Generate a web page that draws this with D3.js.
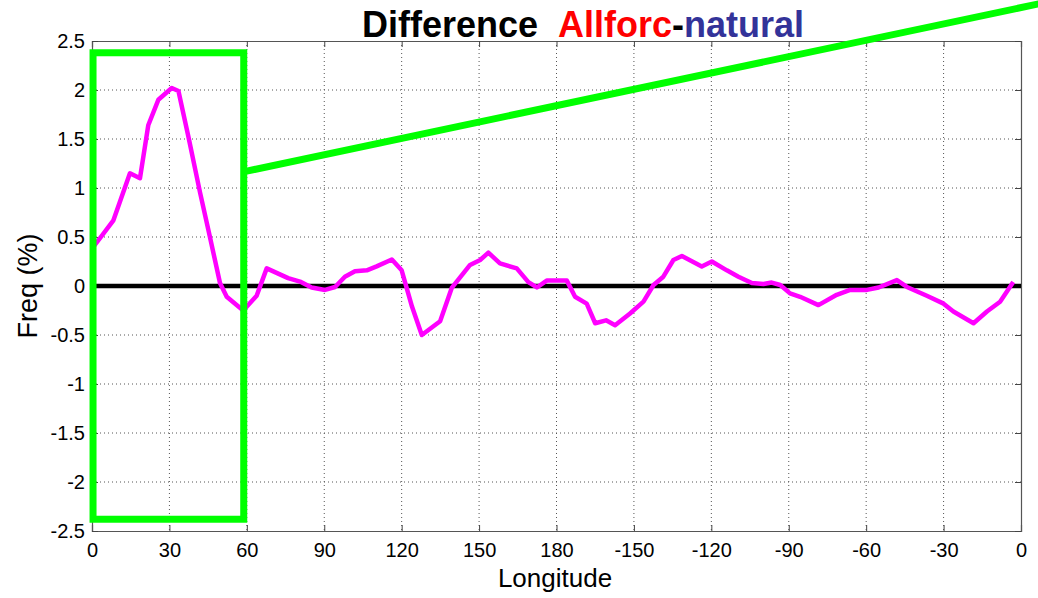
<!DOCTYPE html>
<head>
    <meta charset="utf-8">
    <script src="https://d3js.org/d3.v7.min.js"></script>
    <style>
      body { margin: 0; background: #fff; }
      text { font-family: "Liberation Sans", Arial, Helvetica, sans-serif; }
    </style>
</head>

<body>
<div id="chart"></div>

<script>
  // magenta curve, longitude measured 0..360 going east
  var lon = [0, 8.3, 14.7, 18.6, 21.8, 25.7, 30.9, 33.5, 37.3, 41.9, 45.7, 49.6, 52.2, 58.6, 63.8,
             67.7, 76, 80.6, 85.1, 90.3, 94.2, 98, 101.9, 106.5, 110.3, 116.2, 120, 124, 127.8,
             134.9, 139.4, 146.5, 150.4, 153.6, 158.1, 164.6, 169.1, 172.4, 176.2, 184, 187.2,
             191.7, 195, 199.2, 202.7, 208.5, 213.7, 217.6, 221.4, 225.3, 228.6, 236.3, 240.2,
             246, 250.5, 255.7, 260.2, 263.4, 266.7, 270.5, 274.4, 281.5, 288.6, 293.8, 300.3,
             304.8, 311.9, 315.8, 323.5, 330, 333.8, 341.6, 346.8, 351.9, 357];
  var freq = [0.38, 0.67, 1.15, 1.10, 1.64, 1.90, 2.02, 1.99, 1.53, 0.95, 0.50, 0.03, -0.11, -0.25, -0.10,
              0.18, 0.08, 0.045, -0.015, -0.04, -0.01, 0.095, 0.15, 0.16, 0.2, 0.27, 0.16, -0.21, -0.50,
              -0.36, -0.02, 0.215, 0.265, 0.34, 0.23, 0.18, 0.04, -0.015, 0.055, 0.055, -0.11,
              -0.18, -0.38, -0.35, -0.40, -0.28, -0.16, 0.01, 0.095, 0.265, 0.306, 0.2, 0.25,
              0.16, 0.095, 0.03, 0.02, 0.035, 0.01, -0.075, -0.11, -0.195, -0.09, -0.04, -0.04,
              -0.015, 0.06, -0.01, -0.10, -0.18, -0.26, -0.38, -0.26, -0.16, 0.04];

  var xTicks = [0, 30, 60, 90, 120, 150, 180, 210, 240, 270, 300, 330, 360];
  var xTickLabels = ["0", "30", "60", "90", "120", "150", "180", "-150", "-120", "-90", "-60", "-30", "0"];
  var yTicks = [-2.5, -2, -1.5, -1, -0.5, 0, 0.5, 1, 1.5, 2, 2.5];

  // green highlight box (lon 0-60) and pointer line, in data units
  var boxLon = [0.4, 58.8];
  var boxVal = [2.38, -2.38];
  var pointer = [[59.5, 1.17], [367, 2.88]];

  var width = 1038;
  var height = 598;
  var margin = {left: 92, right: 17, top: 41, bottom: 67};

  var svg = d3.select("#chart").append("svg")
      .attr("width", width)
      .attr("height", height);

  var x = d3.scaleLinear().domain([0, 360]).range([margin.left, width - margin.right]);
  var y = d3.scaleLinear().domain([-2.5, 2.5]).range([height - margin.bottom, margin.top]);

  var g = svg.append("g");

  // dotted grid
  g.selectAll(".vgrid").data(xTicks.slice(1, -1)).enter().append("line")
      .attr("x1", function(d) { return x(d); }).attr("x2", function(d) { return x(d); })
      .attr("y1", y(2.5)).attr("y2", y(-2.5))
      .attr("stroke", "#555").attr("stroke-width", 1).attr("stroke-dasharray", "1,3");
  g.selectAll(".hgrid").data(yTicks.slice(1, -1)).enter().append("line")
      .attr("x1", x(0)).attr("x2", x(360))
      .attr("y1", function(d) { return y(d); }).attr("y2", function(d) { return y(d); })
      .attr("stroke", "#555").attr("stroke-width", 1).attr("stroke-dasharray", "1,3");

  // axes with inward ticks
  var xAxis = d3.axisBottom(x).tickValues(xTicks).tickSize(-6).tickPadding(12)
      .tickFormat(function(d, i) { return xTickLabels[i]; });
  var xAxisTop = d3.axisTop(x).tickValues(xTicks).tickSize(-6).tickFormat("");
  var yAxis = d3.axisLeft(y).tickValues(yTicks).tickSize(-6).tickPadding(7)
      .tickFormat(function(d) { return String(d); });
  var yAxisRight = d3.axisRight(y).tickValues(yTicks).tickSize(-6).tickFormat("");

  function styleAxis(sel) {
    sel.select(".domain").attr("stroke", "#555").attr("stroke-width", 1.2);
    sel.selectAll(".tick line").attr("stroke", "#444");
    sel.selectAll(".tick text").attr("fill", "#000").style("font-size", "20px")
       .style("font-family", "'Liberation Sans', Arial, sans-serif");
  }

  g.append("g").attr("transform", "translate(0," + y(-2.5) + ")").call(xAxis).call(styleAxis);
  g.append("g").attr("transform", "translate(0," + y(2.5) + ")").call(xAxisTop).call(styleAxis);
  g.append("g").attr("transform", "translate(" + x(0) + ",0)").call(yAxis).call(styleAxis);
  g.append("g").attr("transform", "translate(" + x(360) + ",0)").call(yAxisRight).call(styleAxis);

  // zero line
  g.append("line")
      .attr("x1", x(0)).attr("x2", x(360))
      .attr("y1", y(0)).attr("y2", y(0))
      .attr("stroke", "#000").attr("stroke-width", 4.5);

  // data curve
  var line = d3.line()
      .x(function(d, i) { return x(lon[i]); })
      .y(function(d) { return y(d); });
  g.append("path")
      .datum(freq)
      .attr("d", line)
      .attr("fill", "none")
      .attr("stroke", "#ff00ff")
      .attr("stroke-width", 4.5)
      .attr("stroke-linejoin", "round");

  // green annotation
  g.append("rect")
      .attr("x", x(boxLon[0])).attr("y", y(boxVal[0]))
      .attr("width", x(boxLon[1]) - x(boxLon[0]))
      .attr("height", y(boxVal[1]) - y(boxVal[0]))
      .attr("fill", "none").attr("stroke", "#00ff00").attr("stroke-width", 7);
  g.append("line")
      .attr("x1", x(pointer[0][0])).attr("y1", y(pointer[0][1]))
      .attr("x2", x(pointer[1][0])).attr("y2", y(pointer[1][1]))
      .attr("stroke", "#00ff00").attr("stroke-width", 7);

  // labels
  svg.append("text")
      .attr("x", 555).attr("y", 587)
      .attr("text-anchor", "middle")
      .style("font-size", "26px")
      .text("Longitude");

  svg.append("text")
      .attr("transform", "translate(37," + y(0) + ") rotate(-90)")
      .attr("text-anchor", "middle")
      .style("font-size", "27px")
      .text("Freq (%)");

  var title = svg.append("text")
      .attr("x", 583).attr("y", 37)
      .attr("text-anchor", "middle")
      .style("font-size", "36px")
      .style("font-weight", "bold");
  title.append("tspan").attr("fill", "#000").text("Difference\u00a0\u00a0");
  title.append("tspan").attr("fill", "#ff0000").text("Allforc");
  title.append("tspan").attr("fill", "#000").text("-");
  title.append("tspan").attr("fill", "#333399").text("natural");
</script>
</body>
</html>
